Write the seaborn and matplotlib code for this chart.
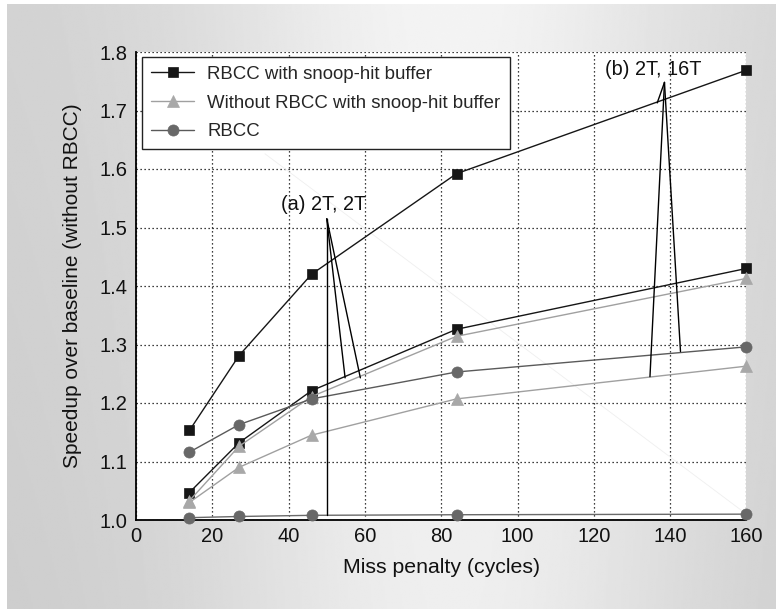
import numpy as np
import pandas as pd
import matplotlib
matplotlib.use("Agg")
import matplotlib.pyplot as plt
import seaborn as sns

# ---------------- data ----------------
miss_penalty = [14, 27, 46, 84, 160]

sq_a = [1.153, 1.281, 1.420, 1.592, 1.769]   # RBCC with snoop-hit buffer (upper)
sq_b = [1.047, 1.132, 1.221, 1.326, 1.430]   # RBCC with snoop-hit buffer (lower)
tri_a = [1.033, 1.126, 1.211, 1.314, 1.413]  # Without RBCC with snoop-hit buffer (upper)
tri_b = [1.030, 1.090, 1.145, 1.207, 1.263]  # Without RBCC with snoop-hit buffer (lower)
cir_a = [1.116, 1.163, 1.207, 1.253, 1.296]  # RBCC (upper)
cir_b = [1.004, 1.006, 1.008, 1.009, 1.010]  # RBCC (lower)

legend_labels = ["RBCC with snoop-hit buffer",
                 "Without RBCC with snoop-hit buffer",
                 "RBCC"]

x_ticks = [0, 20, 40, 60, 80, 100, 120, 140, 160]
y_ticks = [1.0, 1.1, 1.2, 1.3, 1.4, 1.5, 1.6, 1.7, 1.8]

# annotation callouts (tip, and the points they fan out to)
ann_a_text = "(a) 2T, 2T"
ann_a_text_pos = (49.3, 1.540)
ann_a_tip = (50.0, 1.515)
ann_a_ends = [(50.0, 1.008), (54.8, 1.243), (58.8, 1.243)]

ann_b_text = "(b) 2T, 16T"
ann_b_text_pos = (135.6, 1.770)
ann_b_tip = (138.5, 1.748)
ann_b_ends = [(136.6, 1.713), (134.7, 1.245), (142.7, 1.288)]

faint_line_x = [33.8, 160]
faint_line_y = [1.626, 1.010]

# ---------------- style ----------------
sns.set_theme(style="white")
plt.rcParams["font.family"] = ["Liberation Sans", "DejaVu Sans"]

fig = plt.figure(figsize=(7.76, 6.09), dpi=100)

# gradient panel background
bg = fig.add_axes([7 / 776, 0, 1 - 7 / 776, 1 - 4 / 609], zorder=-10)
W, H = 400, 300
xx = np.linspace(0, 1, W)
yy = np.linspace(0, 1, H)
X, Y = np.meshgrid(xx, yy)
horiz = 0.82 + 0.135 * np.exp(-((X - 0.58) / 0.33) ** 2)
vert = -0.02 * Y
img = np.clip(horiz + vert, 0, 1)
bg.imshow(img, cmap="gray", vmin=0, vmax=1, aspect="auto",
          extent=[0, 1, 0, 1], origin="upper", interpolation="bilinear")
bg.set_axis_off()

ax = fig.add_axes([136 / 776, 1 - 520 / 609, (746.5 - 136) / 776, (520 - 52) / 609])
ax.set_facecolor("white")

BLACK = "#161616"
LGRAY = "#a8a8a8"
DGRAY = "#686868"

series = [
    (sq_a, "s", BLACK, BLACK, 7.2, legend_labels[0]),
    (sq_b, "s", BLACK, BLACK, 7.2, None),
    (tri_a, "^", LGRAY, "#a0a0a0", 8.5, legend_labels[1]),
    (tri_b, "^", LGRAY, "#a0a0a0", 8.5, None),
    (cir_a, "o", DGRAY, "#5a5a5a", 8.0, legend_labels[2]),
    (cir_b, "o", DGRAY, "#6a6a6a", 8.0, None),
]

for vals, mk, mcol, lcol, ms, lab in series:
    sns.lineplot(x=miss_penalty, y=vals, ax=ax, color=lcol, lw=1.0,
                 marker=mk, markersize=ms, markerfacecolor=mcol,
                 markeredgecolor=mcol, markeredgewidth=0.5,
                 label=lab if lab else "_nolegend_", zorder=3,
                 clip_on=False)

# faint artifact line
ax.plot(faint_line_x, faint_line_y, color="#efefef", lw=0.6, zorder=1)

# annotations
for txt, tpos, tip, ends in [(ann_a_text, ann_a_text_pos, ann_a_tip, ann_a_ends),
                             (ann_b_text, ann_b_text_pos, ann_b_tip, ann_b_ends)]:
    ax.text(tpos[0], tpos[1], txt, ha="center", va="center", fontsize=14.3,
            color="#111111", zorder=5)
    for e in ends:
        ax.plot([tip[0], e[0]], [tip[1], e[1]], color="black", lw=1.0, zorder=4)

ax.set_xlim(0, 160)
ax.set_ylim(1.0, 1.8)
ax.set_xticks(x_ticks)
ax.set_yticks(y_ticks)
ax.set_xticklabels([str(v) for v in x_ticks])
ax.set_yticklabels([f"{v:.1f}" for v in y_ticks])
ax.tick_params(axis="both", labelsize=14.5, colors="#111111", direction="in",
               length=4, width=0.8, pad=6)
ax.tick_params(axis="x", pad=5)

ax.grid(True, which="major", linestyle=(0, (1, 2.2)), color="black", lw=0.9)
ax.set_axisbelow(True)
for s in ["top", "right"]:
    ax.spines[s].set_visible(False)
for s in ["left", "bottom"]:
    ax.spines[s].set_color("black")
    ax.spines[s].set_linewidth(1.3)

ax.set_xlabel("Miss penalty (cycles)", fontsize=15.3, color="#111111", labelpad=9)
ax.set_ylabel("Speedup over baseline (without RBCC)", fontsize=15, color="#111111",
              labelpad=13)

leg = ax.legend(loc="upper left", bbox_to_anchor=(0.01, 0.99), fontsize=13.4,
                frameon=True, fancybox=False, framealpha=1, edgecolor="#222222",
                handlelength=2.3, handletextpad=0.7, labelspacing=0.62,
                borderpad=0.5, borderaxespad=0.0)
leg.get_frame().set_linewidth(1.0)
leg.set_zorder(6)

fig.savefig("out.png", dpi=100)
